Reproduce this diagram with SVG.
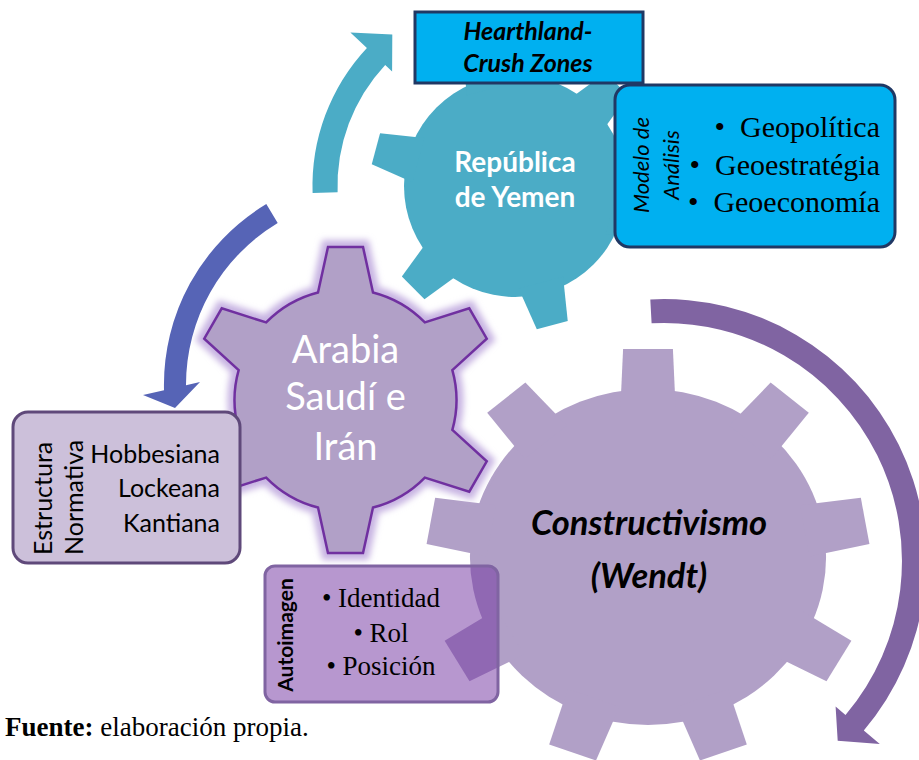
<svg xmlns="http://www.w3.org/2000/svg" xmlns:xlink="http://www.w3.org/1999/xlink" width="919" height="760" viewBox="0 0 919 760">
  <style>
    .sans { font-family: Lato, "Open Sans", "Liberation Sans", sans-serif; }
    .serif { font-family: "Liberation Serif", "Times New Roman", serif; }
    .white { fill: #FFFFFF; }
    .ink { fill: #000000; }
    .gearLilac { fill: #B1A0C7; }
    .gearTeal { fill: #4BACC6; }
    .boxCyan { fill: #00B0F0; stroke: #203864; stroke-width: 3; }
  </style>
  <defs>
    <!-- single gear teeth, pointing up from the gear centre -->
    <polygon id="tooth9" points="-26,-150 -23.5,-208 23.5,-208 26,-150"/>
    <polygon id="tooth6" points="-23,-100 -16,-144 16,-144 23,-100"/>
    <filter id="halo" x="-20%" y="-20%" width="140%" height="140%">
      <feGaussianBlur stdDeviation="3"/>
    </filter>
  </defs>

  <rect width="919" height="760" fill="#FFFFFF"/>

  <!-- large gear: Constructivismo (Wendt) -->
  <g id="gear-constructivismo">
    <g class="gearLilac" transform="translate(648,557) scale(1.06,1)">
      <circle r="168"/>
      <use xlink:href="#tooth9"/>
      <use xlink:href="#tooth9" transform="rotate(40)"/>
      <use xlink:href="#tooth9" transform="rotate(80)"/>
      <use xlink:href="#tooth9" transform="rotate(120)"/>
      <use xlink:href="#tooth9" transform="rotate(160)"/>
      <use xlink:href="#tooth9" transform="rotate(200)"/>
      <use xlink:href="#tooth9" transform="rotate(240)"/>
      <use xlink:href="#tooth9" transform="rotate(280)"/>
      <use xlink:href="#tooth9" transform="rotate(320)"/>
    </g>
    <text class="sans ink" x="649" y="535" font-size="34.5" font-weight="bold" font-style="italic" text-anchor="middle">Constructivismo</text>
    <text class="sans ink" x="649" y="588" font-size="34.5" font-weight="bold" font-style="italic" text-anchor="middle">(Wendt)</text>
  </g>

  <!-- teal gear: República de Yemen -->
  <g id="gear-yemen">
    <g class="gearTeal" transform="translate(515,186)">
      <circle r="111"/>
      <use xlink:href="#tooth6" transform="rotate(45)"/>
      <use xlink:href="#tooth6" transform="rotate(105)"/>
      <use xlink:href="#tooth6" transform="rotate(165)"/>
      <use xlink:href="#tooth6" transform="rotate(225)"/>
      <use xlink:href="#tooth6" transform="rotate(285)"/>
      <use xlink:href="#tooth6" transform="rotate(345)"/>
    </g>
    <text class="sans white" x="515" y="172" font-size="28" font-weight="bold" text-anchor="middle">República</text>
    <text class="sans white" x="515" y="207" font-size="28" font-weight="bold" text-anchor="middle">de Yemen</text>
  </g>

  <!-- outlined gear: Arabia Saudí e Irán -->
  <g id="gear-arabia" transform="translate(345.5,400)">
    <path d="M -27.5,-107.5 L -17.5,-153 L 17.5,-153 L 27.5,-107.5 A 111 111 0 0 1 79.35,-77.57 L 123.75,-91.66 L 141.25,-61.34 L 106.85,-29.93 A 111 111 0 0 1 106.85,29.93 L 141.25,61.34 L 123.75,91.66 L 79.35,77.57 A 111 111 0 0 1 27.5,107.5 L 17.5,153 L -17.5,153 L -27.5,107.5 A 111 111 0 0 1 -79.35,77.57 L -123.75,91.66 L -141.25,61.34 L -106.85,29.93 A 111 111 0 0 1 -106.85,-29.93 L -141.25,-61.34 L -123.75,-91.66 L -79.35,-77.57 A 111 111 0 0 1 -27.5,-107.5 Z" fill="none" stroke="#C7B4E2" stroke-width="14" stroke-linejoin="miter" filter="url(#halo)"/>
    <path d="M -27.5,-107.5 L -17.5,-153 L 17.5,-153 L 27.5,-107.5 A 111 111 0 0 1 79.35,-77.57 L 123.75,-91.66 L 141.25,-61.34 L 106.85,-29.93 A 111 111 0 0 1 106.85,29.93 L 141.25,61.34 L 123.75,91.66 L 79.35,77.57 A 111 111 0 0 1 27.5,107.5 L 17.5,153 L -17.5,153 L -27.5,107.5 A 111 111 0 0 1 -79.35,77.57 L -123.75,91.66 L -141.25,61.34 L -106.85,29.93 A 111 111 0 0 1 -106.85,-29.93 L -141.25,-61.34 L -123.75,-91.66 L -79.35,-77.57 A 111 111 0 0 1 -27.5,-107.5 Z" fill="#B1A0C7" stroke="#7030A0" stroke-width="2.5" stroke-linejoin="miter"/>
    <text class="sans white" x="0" y="-37" font-size="38" text-anchor="middle">Arabia</text>
    <text class="sans white" x="0" y="10" font-size="38" text-anchor="middle">Saudí e</text>
    <text class="sans white" x="0" y="60" font-size="38" text-anchor="middle">Irán</text>
  </g>

  <!-- curved arrows linking the gears -->
  <g id="connectors">
    <path d="M 312.6,193.1 A 202.5 202.5 0 0 1 366.9,47.9 L 350.4,32.5 L 392.3,34.5 L 392.1,71.4 L 385.2,64.9 A 177.5 177.5 0 0 0 337.6,192.2 Z" fill="#4BACC6"/>
    <path d="M 266.3,204.1 A 211 211 0 0 0 164.0,390.2 L 143,395 L 175,408 L 200,382 L 186,385.2 A 189 189 0 0 1 277.7,223.0 Z" fill="#5664B6"/>
    <path d="M 650.3,299.4 A 262 262 0 0 1 863.8,730.5 L 879.8,744.0 L 837.7,740.8 L 835.6,706.5 L 845.5,714.9 A 238 238 0 0 0 651.6,323.3 Z" fill="#8064A2"/>
  </g>

  <!-- label box: Hearthland-Crush Zones -->
  <g id="box-hearthland">
    <rect class="boxCyan" x="415" y="12" width="228" height="71"/>
    <text class="sans ink" x="528" y="40" font-size="25" font-weight="bold" font-style="italic" text-anchor="middle">Hearthland-</text>
    <text class="sans ink" x="528" y="72" font-size="25" font-weight="bold" font-style="italic" text-anchor="middle">Crush Zones</text>
  </g>

  <!-- label box: Modelo de Análisis -->
  <g id="box-modelo">
    <rect class="boxCyan" x="615" y="85" width="280" height="162" rx="15"/>
    <text class="sans ink" transform="translate(649,165) rotate(-90)" font-size="22" font-style="italic" text-anchor="middle">Modelo de</text>
    <text class="sans ink" transform="translate(679,165) rotate(-90)" font-size="22" font-style="italic" text-anchor="middle">Análisis</text>
    <text class="serif ink" x="880" y="137" font-size="30" text-anchor="end">•&#160;&#160;Geopolítica</text>
    <text class="serif ink" x="880" y="175" font-size="30" text-anchor="end">•&#160;&#160;Geoestratégia</text>
    <text class="serif ink" x="880" y="212" font-size="30" text-anchor="end">•&#160;&#160;Geoeconomía</text>
  </g>

  <!-- label box: Estructura Normativa -->
  <g id="box-estructura">
    <rect x="13" y="412" width="227" height="151" rx="15" fill="#CCC0DA" stroke="#5F497A" stroke-width="3"/>
    <text class="sans ink" transform="translate(52,555) rotate(-90)" font-size="25">Estructura</text>
    <text class="sans ink" transform="translate(83,555) rotate(-90)" font-size="25">Normativa</text>
    <text class="sans ink" x="220" y="463" font-size="25" text-anchor="end">Hobbesiana</text>
    <text class="sans ink" x="220" y="497" font-size="25" text-anchor="end">Lockeana</text>
    <text class="sans ink" x="220" y="532" font-size="25" text-anchor="end">Kantiana</text>
  </g>

  <!-- label box: Autoimagen (translucent, over the large gear) -->
  <g id="box-autoimagen">
    <rect x="265" y="566" width="233" height="136" rx="10" fill="#7030A0" fill-opacity="0.5" stroke="#8064A2" stroke-width="3"/>
    <text class="sans ink" transform="translate(293,635) rotate(-90)" font-size="21" font-weight="bold" text-anchor="middle">Autoimagen</text>
    <text class="serif ink" x="381" y="607" font-size="27" text-anchor="middle">• Identidad</text>
    <text class="serif ink" x="381" y="642" font-size="27" text-anchor="middle">• Rol</text>
    <text class="serif ink" x="381" y="675" font-size="27" text-anchor="middle">• Posición</text>
  </g>

  <!-- source line -->
  <text class="serif ink" x="5" y="736" font-size="27"><tspan font-weight="bold">Fuente:</tspan> elaboración propia.</text>
</svg>
